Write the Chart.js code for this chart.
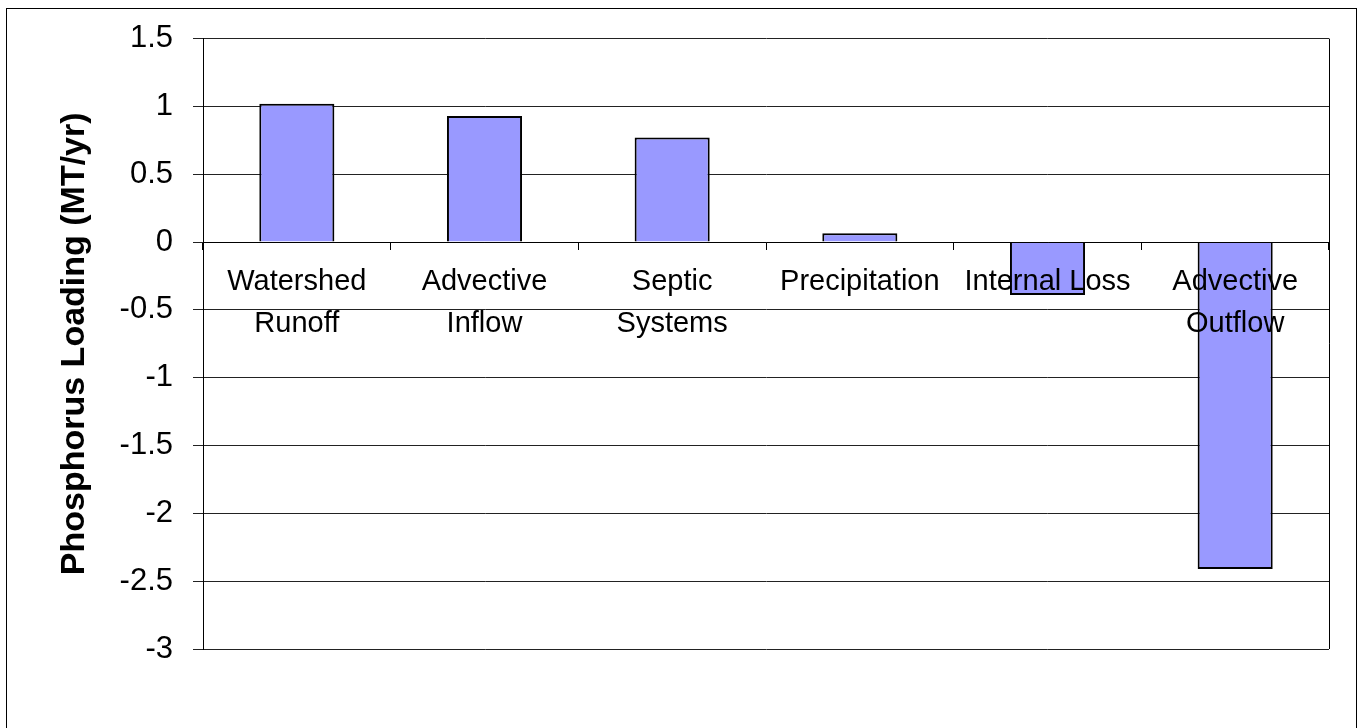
<!DOCTYPE html>
<html>
<head>
<meta charset="utf-8">
<script src="https://cdn.jsdelivr.net/npm/chart.js@4/dist/chart.umd.min.js"></script>
<style>
  html, body { margin: 0; padding: 0; background: #fff; }
  #wrap { position: relative; width: 1360px; height: 728px; overflow: hidden; }
  #frame { position: absolute; left: 6px; top: 8px; width: 1351px; height: 760px; border: 1px solid #000; box-sizing: border-box; }
  canvas { position: absolute; left: 0; top: 0; }
</style>
</head>
<body>
<div id="wrap">
  <div id="frame"></div>
  <canvas id="c" width="1360" height="728"></canvas>
</div>
<script>
const categories = [["Watershed", "Runoff"], ["Advective", "Inflow"], ["Septic", "Systems"], "Precipitation", "Internal Loss", ["Advective", "Outflow"]];
const loading = [1.02, 0.93, 0.77, 0.065, -0.39, -2.41];
const yTicks = [1.5, 1, 0.5, 0, -0.5, -1, -1.5, -2, -2.5, -3];
const yTitle = "Phosphorus Loading (MT/yr)";

const FONT = "'Liberation Sans', Arial, Helvetica, sans-serif";

const plotBorder = {
  id: 'plotBorder',
  afterDatasetsDraw(chart) {
    const a = chart.chartArea, ctx = chart.ctx;
    ctx.save();
    ctx.strokeStyle = '#000';
    ctx.lineWidth = 1;
    ctx.beginPath();
    ctx.moveTo(Math.round(a.right) + 0.5, a.top);
    ctx.lineTo(Math.round(a.right) + 0.5, a.bottom);
    ctx.stroke();
    ctx.restore();
  }
};

new Chart(document.getElementById('c'), {
  type: 'bar',
  data: {
    labels: categories,
    datasets: [{
      data: loading,
      backgroundColor: '#9999FF',
      borderColor: '#000000',
      borderWidth: 2,
      categoryPercentage: 1,
      barPercentage: 0.4
    }]
  },
  options: {
    responsive: false,
    animation: false,
    devicePixelRatio: 1,
    layout: { padding: { left: 0, top: 38, right: 31, bottom: 79 } },
    plugins: { legend: { display: false }, tooltip: { enabled: false } },
    scales: {
      x: {
        position: { y: 0 },
        offset: true,
        grid: {
          offset: true,
          drawOnChartArea: false,
          drawTicks: true,
          tickLength: 7,
          color: '#000',
          z: 1
        },
        border: { display: true, color: '#000', width: 1, z: 1 },
        ticks: {
          z: 2,
          color: '#000',
          padding: 12,
          maxRotation: 0,
          autoSkip: false,
          font: { family: FONT, size: 29, lineHeight: 1.45 }
        }
      },
      y: {
        min: -3,
        max: 1.5,
        afterBuildTicks(scale) { scale.ticks = yTicks.map(v => ({ value: v })); },
        afterFit(scale) { scale.width = 203; },
        grid: { color: '#222', tickLength: 10, lineWidth: 1 },
        border: { display: true, color: '#000', width: 1 },
        ticks: {
          color: '#000',
          padding: 20,
          font: { family: FONT, size: 31 },
          callback: (v) => String(v)
        },
        title: {
          display: true,
          text: yTitle,
          color: '#000',
          padding: { top: 54, bottom: 0 },
          font: { family: FONT, size: 34, weight: 'bold' }
        }
      }
    }
  },
  plugins: [plotBorder]
});
</script>
</body>
</html>
